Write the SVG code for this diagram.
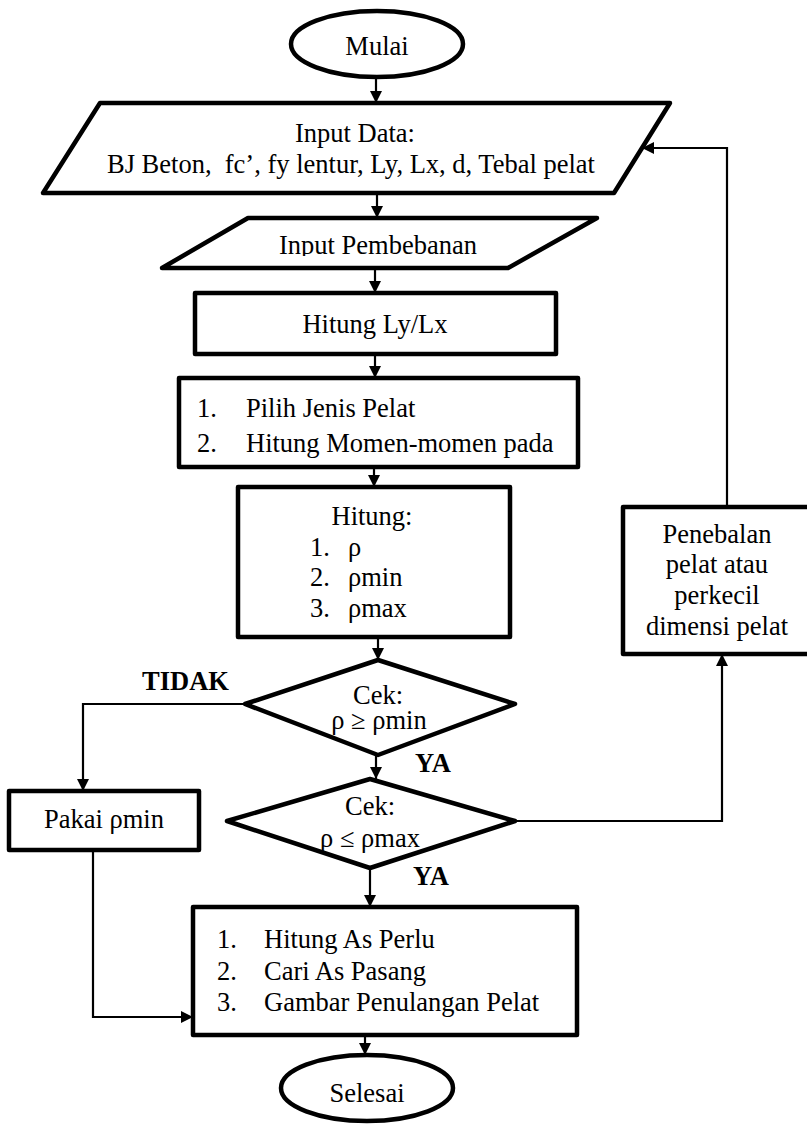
<svg xmlns="http://www.w3.org/2000/svg" width="807" height="1126" viewBox="0 0 807 1126">
  <defs>
    <style>
      .shape { fill: #fff; stroke: #000; stroke-width: 4.5; stroke-linejoin: round; }
      .wire { fill: none; stroke: #000; stroke-width: 2.2; }
      text { font-family: "Liberation Serif", "Times New Roman", Times, serif; font-size: 26.5px; fill: #000; }
      .c { text-anchor: middle; }
      .b { font-weight: bold; }
    </style>
    <marker id="arrow" viewBox="0 0 12 12" refX="12" refY="6" markerWidth="12" markerHeight="12" markerUnits="userSpaceOnUse" orient="auto">
      <path d="M0,0 L12,6 L0,12 z" fill="#000"/>
    </marker>
    <clipPath id="clipPembebanan">
      <rect x="150" y="215" width="460" height="41"/>
    </clipPath>
  </defs>
  <rect width="807" height="1126" fill="#fff"/>

  <!-- connectors -->
  <g id="connectors" class="wire">
    <path d="M376,77 V103" marker-end="url(#arrow)"/>
    <path d="M377,193 V218" marker-end="url(#arrow)"/>
    <path d="M375,268 V293" marker-end="url(#arrow)"/>
    <path d="M375,354 V378" marker-end="url(#arrow)"/>
    <path d="M374,467 V487" marker-end="url(#arrow)"/>
    <path d="M378,637 V660" marker-end="url(#arrow)"/>
    <path d="M376,755 V779" marker-end="url(#arrow)"/>
    <path d="M370,868 V907" marker-end="url(#arrow)"/>
    <path d="M365,1035 V1055" marker-end="url(#arrow)"/>
    <!-- TIDAK branch -->
    <path d="M245,704 H83 V791" marker-end="url(#arrow)"/>
    <path d="M93,850 V1017 H193" marker-end="url(#arrow)"/>
    <!-- feedback loop -->
    <path d="M515,821 H722 V654" marker-end="url(#arrow)"/>
    <path d="M727,507 V148 H642" marker-end="url(#arrow)"/>
  </g>

  <g id="mulai">
    <ellipse class="shape" cx="377" cy="44" rx="86" ry="33"/>
    <text class="c" x="377" y="55">Mulai</text>
  </g>

  <g id="input-data">
    <polygon class="shape" points="100,103 670,103 614,193 43,193"/>
    <text class="c" x="355" y="142">Input Data:</text>
    <text x="107" y="173" xml:space="preserve">BJ Beton,  fc’, fy lentur, Ly, Lx, d, Tebal pelat</text>
  </g>

  <g id="input-pembebanan">
    <polygon class="shape" points="248,218 597,218 508,268 162,268"/>
    <text class="c" x="378" y="254" clip-path="url(#clipPembebanan)">Input Pembebanan</text>
  </g>

  <g id="hitung-lylx">
    <rect class="shape" x="195" y="293" width="361" height="61"/>
    <text class="c" x="375" y="333">Hitung Ly/Lx</text>
  </g>

  <g id="pilih-jenis">
    <rect class="shape" x="179" y="378" width="399" height="89"/>
    <text x="197" y="417">1.</text>
    <text x="246" y="417">Pilih Jenis Pelat</text>
    <text x="197" y="452">2.</text>
    <text x="246" y="452">Hitung Momen-momen pada</text>
  </g>

  <g id="hitung-rho">
    <rect class="shape" x="238" y="487" width="272" height="150"/>
    <text class="c" x="372" y="525">Hitung:</text>
    <text x="310" y="556">1.</text>
    <text x="348" y="556">ρ</text>
    <text x="310" y="586">2.</text>
    <text x="348" y="586">ρmin</text>
    <text x="310" y="617">3.</text>
    <text x="348" y="617">ρmax</text>
  </g>

  <g id="cek-min">
    <polygon class="shape" points="378,660 515,704 378,755 245,704"/>
    <text class="c" x="378" y="704">Cek:</text>
    <text class="c" x="379" y="729">ρ ≥ ρmin</text>
  </g>

  <g id="cek-max">
    <polygon class="shape" points="370,779 515,821 370,868 227,821"/>
    <text class="c" x="370" y="815">Cek:</text>
    <text class="c" x="370" y="847">ρ ≤ ρmax</text>
  </g>

  <g id="pakai-rhomin">
    <rect class="shape" x="9" y="791" width="190" height="59"/>
    <text class="c" x="104" y="828">Pakai ρmin</text>
  </g>

  <g id="penebalan">
    <rect class="shape" x="623" y="507" width="190" height="147"/>
    <text class="c" x="717" y="543">Penebalan</text>
    <text class="c" x="717" y="573">pelat atau</text>
    <text class="c" x="717" y="604">perkecil</text>
    <text class="c" x="717" y="635">dimensi pelat</text>
  </g>

  <g id="hitung-as">
    <rect class="shape" x="193" y="907" width="384" height="128"/>
    <text x="217" y="948">1.</text>
    <text x="264" y="948">Hitung As Perlu</text>
    <text x="217" y="980">2.</text>
    <text x="264" y="980">Cari As Pasang</text>
    <text x="217" y="1011">3.</text>
    <text x="264" y="1011">Gambar Penulangan Pelat</text>
  </g>

  <g id="selesai">
    <ellipse class="shape" cx="367" cy="1088" rx="86" ry="33"/>
    <text class="c" x="367" y="1102">Selesai</text>
  </g>

  <g id="branch-labels">
    <text class="b" x="142" y="690">TIDAK</text>
    <text class="b" x="415" y="772">YA</text>
    <text class="b" x="413" y="885">YA</text>
  </g>
</svg>
